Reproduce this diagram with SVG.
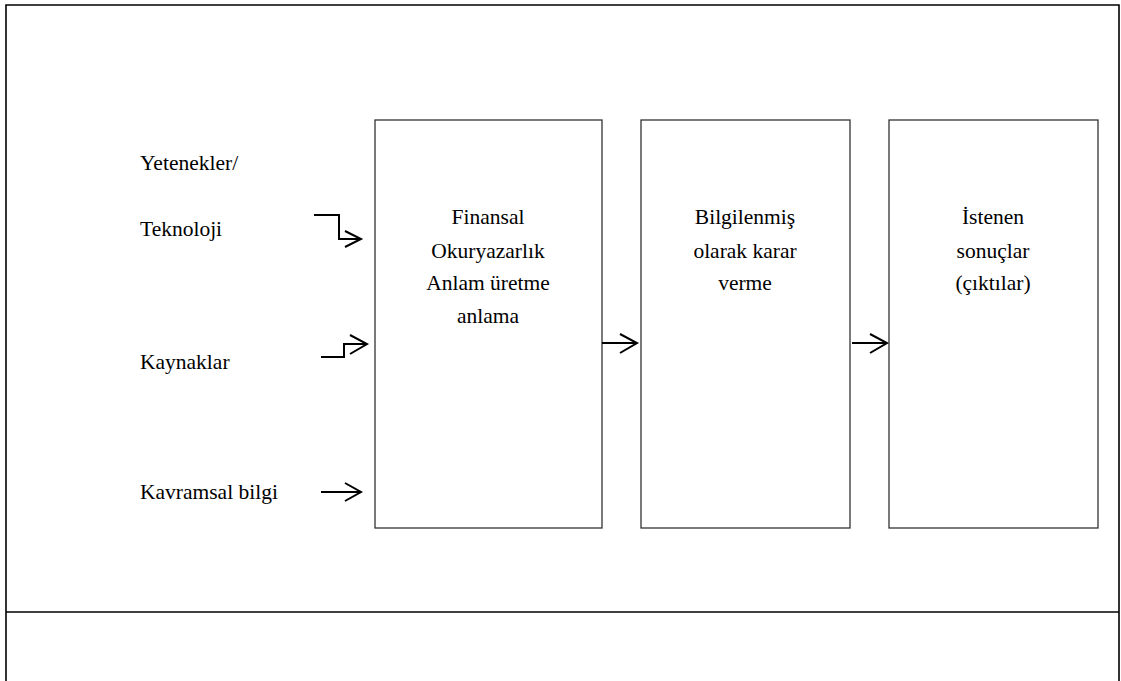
<svg xmlns="http://www.w3.org/2000/svg" width="1121" height="681" viewBox="0 0 1121 681">
<style>
.frame{fill:none;stroke:#000;stroke-width:1.6}
.box{fill:#fff;stroke:#333;stroke-width:1.3}
.t{font-family:"Liberation Serif","Times New Roman",serif;font-size:21.5px;fill:#000}
.c{text-anchor:middle}
.ln{fill:none;stroke:#000;stroke-width:2}
</style>
<rect width="1121" height="681" fill="#fff"/>
<g id="frame">
<path class="frame" d="M6,682 V5 H1119 V682"/>
<line class="frame" x1="6" y1="612" x2="1119" y2="612"/>
</g>
<g id="labels">
<text class="t" x="140" y="170">Yetenekler/</text>
<text class="t" x="140" y="236">Teknoloji</text>
<text class="t" x="140" y="369">Kaynaklar</text>
<text class="t" x="140" y="499">Kavramsal bilgi</text>
</g>
<g id="node-finansal">
<rect class="box" x="375" y="120" width="227" height="408"/>
<text class="t c" x="488" y="224">Finansal</text>
<text class="t c" x="488" y="258">Okuryazarlık</text>
<text class="t c" x="488" y="290">Anlam üretme</text>
<text class="t c" x="488" y="323">anlama</text>
</g>
<g id="node-karar">
<rect class="box" x="641" y="120" width="209" height="408"/>
<text class="t c" x="745" y="224">Bilgilenmiş</text>
<text class="t c" x="745" y="258">olarak karar</text>
<text class="t c" x="745" y="290">verme</text>
</g>
<g id="node-sonuc">
<rect class="box" x="889" y="120" width="209" height="408"/>
<text class="t c" x="993" y="224">İstenen</text>
<text class="t c" x="993" y="258">sonuçlar</text>
<text class="t c" x="993" y="290">(çıktılar)</text>
</g>
<g id="connectors">
<path class="ln" d="M314,215 H339 V239 H361"/>
<path class="ln" d="M345,231 L361,239 L345,247"/>
<path class="ln" d="M321,357 H344 V344 H367"/>
<path class="ln" d="M350,335 L367,344 L350,354"/>
<path class="ln" d="M321,492 H361"/>
<path class="ln" d="M345,483 L361,492 L345,501"/>
<path class="ln" d="M602,343 H637"/>
<path class="ln" d="M620,334 L637,343 L620,353"/>
<path class="ln" d="M852,343 H887"/>
<path class="ln" d="M870,334 L887,343 L870,353"/>
</g>
</svg>
